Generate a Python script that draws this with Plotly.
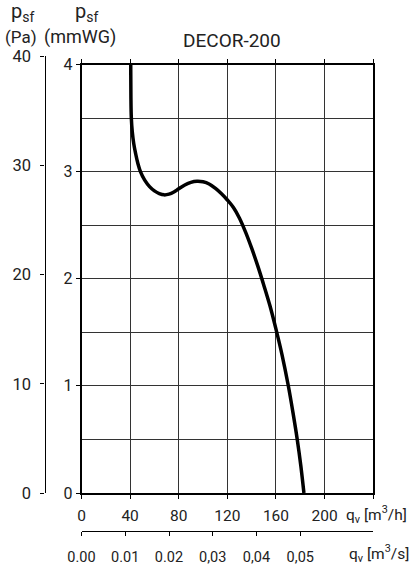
import plotly.graph_objects as go

# ---- data ----
q_m3h = [40.5, 40.65, 41.0, 41.8, 43.0, 44.5, 46.3, 48.5, 52.0, 56.0, 60.0, 64.0, 68.0, 72.0,
         76.0, 80.0, 85.0, 90.0, 95.0, 100.0, 105.0, 110.0, 115.0, 120.0, 125.0, 130.0,
         135.0, 140.0, 145.0, 150.0, 155.0, 160.0, 165.0, 170.0, 174.0, 177.5, 180.5, 183.0]
p_mmwg = [4.0, 3.7, 3.5, 3.37, 3.26, 3.17, 3.08, 3.0, 2.92, 2.86, 2.82, 2.795, 2.783, 2.79,
          2.81, 2.84, 2.875, 2.9, 2.91, 2.905, 2.885, 2.845, 2.795, 2.735, 2.665, 2.565,
          2.435, 2.285, 2.12, 1.94, 1.75, 1.53, 1.29, 1.01, 0.75, 0.5, 0.25, 0.0]

x_ticks = [0, 40, 80, 120, 160, 200, 240]
x_ticktext = ["0", "40", "80", "120", "160", "200", ""]
y_ticks = [0, 1, 2, 3, 4]
pa_ticks = [0, 10, 20, 30, 40]
m3s_ticks = [0.00, 0.01, 0.02, 0.03, 0.04, 0.05]
m3s_ticktext = ["0.00", "0.01", "0.02", "0,03", "0,04", "0,05"]
title_text = "DECOR-200"

# ---- layout geometry (pixels) ----
W, H = 417, 569
T, B = 56, 38
PH = H - T - B
def xp(px):
    return px / W
def yp(py):
    return (H - B - py) / PH

x_dom = [xp(81.5), xp(373.2)]
y_dom = [yp(493), yp(64.5)]
pa_top = y_dom[0] + (y_dom[1] - y_dom[0]) * 40 / (4 * 9.80665)
pa_dom = [y_dom[0], min(pa_top, 1.0)]
pa_max = 40 if pa_top <= 1 else 40 * (pa_dom[1] - pa_dom[0]) / (pa_top - pa_dom[0])

FONT = "Roboto, sans-serif"
TXT = "#222"
GRID = "#333"

fig = go.Figure()
fig.add_trace(go.Scatter(x=q_m3h, y=p_mmwg, mode="lines",
                         line=dict(color="black", width=3.5, shape="spline", smoothing=1.0),
                         hoverinfo="skip", showlegend=False))
# dummy traces to create the extra axes
fig.add_trace(go.Scatter(x=[None], y=[None], xaxis="x2", yaxis="y", showlegend=False))
fig.add_trace(go.Scatter(x=[None], y=[None], xaxis="x3", yaxis="y2", showlegend=False))

fig.update_layout(
    width=W, height=H,
    margin=dict(l=0, r=0, t=T, b=B, autoexpand=False),
    paper_bgcolor="white", plot_bgcolor="rgba(0,0,0,0)",
    font=dict(family=FONT, color=TXT, size=15),
    showlegend=False,
    xaxis=dict(domain=x_dom, range=[0, 240], tickvals=x_ticks, ticktext=x_ticktext,
               showgrid=True, gridcolor=GRID, gridwidth=1.2,
               showline=True, linecolor="black", linewidth=1.5, mirror="ticks",
               ticks="outside", ticklen=4, tickcolor="black", tickwidth=1.2,
               ticklabelstandoff=4, zeroline=False, tickfont=dict(size=15.5),
               automargin=False, fixedrange=True),
    yaxis=dict(domain=y_dom, range=[0, 4], tickvals=y_ticks,
               showgrid=True, gridcolor=GRID, gridwidth=1.2,
               minor=dict(dtick=0.5, showgrid=True, gridcolor=GRID, gridwidth=1.2, ticks=""),
               showline=True, linecolor="black", linewidth=1.5, mirror=True,
               ticks="outside", ticklen=4, tickcolor="black", tickwidth=1.2,
               zeroline=False, tickfont=dict(size=16), automargin=False, fixedrange=True),
    xaxis2=dict(overlaying="x", anchor="free", position=0, side="bottom",
                range=[0, 240 / 3600], tickvals=m3s_ticks, ticktext=m3s_ticktext,
                showgrid=False, zeroline=False,
                showline=True, linecolor="black", linewidth=1.3,
                ticks="outside", ticklen=4, tickcolor="black", tickwidth=1.2,
                ticklabelstandoff=8, tickfont=dict(size=14.5), automargin=False, fixedrange=True),
    xaxis3=dict(domain=x_dom, anchor="y2", visible=False, range=[0, 240], fixedrange=True),
    yaxis2=dict(domain=pa_dom, anchor="free", position=xp(44.5), side="left",
                range=[0, pa_max],
                tickvals=pa_ticks, showgrid=False, zeroline=False,
                showline=True, linecolor="black", linewidth=1.3,
                ticks="outside", ticklen=4, tickcolor="black", tickwidth=1.2,
                ticklabelstandoff=6, tickfont=dict(size=16.5), automargin=False, fixedrange=True),
)

def ann(text, px, py, size, xanchor="center"):
    fig.add_annotation(text=text, x=xp(px), y=yp(py), xref="paper", yref="paper",
                       showarrow=False, xanchor=xanchor, yanchor="middle",
                       font=dict(family=FONT, size=size, color=TXT))

ann(title_text, 232, 41, 19)
ann("p<sub>sf</sub>", 22, 12, 20)
ann("(Pa)", 21, 37, 17)
ann("p<sub>sf</sub>", 86, 12, 20)
ann("(mmWG)", 80, 37, 18)
ann("q<sub>v</sub> [m<sup>3</sup>/h]", 344, 514, 15.5, xanchor="left")
ann("q<sub>v</sub> [m<sup>3</sup>/s]", 346.5, 553, 15.5, xanchor="left")

fig.write_html("out.html")
